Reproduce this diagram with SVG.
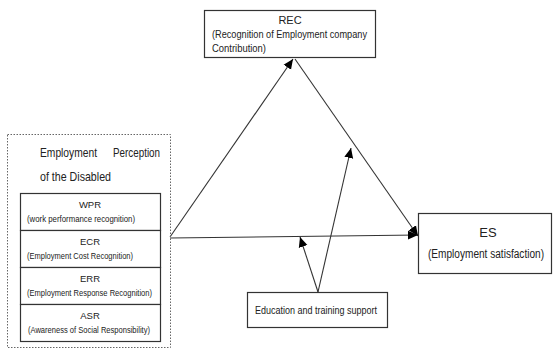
<svg xmlns="http://www.w3.org/2000/svg" width="555" height="358" viewBox="0 0 555 358">
<style>
.box{fill:#fff;stroke:#333;stroke-width:1.2}
.t{font-family:"Liberation Sans",Arial,sans-serif;fill:#222}
.s{font-size:9.5px}
.m{font-size:11px}
.l{font-size:13px}
.c{stroke:#333;stroke-width:1.1;fill:none;marker-end:url(#ah)}
</style>
<defs>
<marker id="ah" viewBox="0 0 10 10" refX="10" refY="5" markerWidth="10" markerHeight="10" markerUnits="userSpaceOnUse" orient="auto">
<path d="M0,0.5 L10,5 L0,9.5 Z" fill="#000"/>
</marker>
</defs>
<rect width="555" height="358" fill="#fff"/>
<g id="connectors">
<line class="c" x1="170" y1="237" x2="293" y2="59"/>
<line class="c" x1="295" y1="59" x2="418" y2="236"/>
<line class="c" x1="170" y1="238" x2="418" y2="235"/>
<line class="c" x1="318" y1="292" x2="300" y2="237"/>
<line class="c" x1="318" y1="292" x2="351" y2="148"/>
</g>
<g id="perception">
<rect x="7.5" y="134.5" width="163" height="213" fill="none" stroke="#666" stroke-width="1" stroke-dasharray="1.5,1.5"/>
<text class="t l" x="40" y="157" textLength="57" lengthAdjust="spacingAndGlyphs">Employment</text>
<text class="t l" x="113" y="157" textLength="47" lengthAdjust="spacingAndGlyphs">Perception</text>
<text class="t l" x="40" y="181" textLength="71" lengthAdjust="spacingAndGlyphs">of the Disabled</text>
</g>
<g id="wpr">
<rect class="box" x="20.5" y="193.5" width="140" height="37"/>
<text class="t s" x="90" y="208" text-anchor="middle">WPR</text>
<text class="t s" x="27" y="222" textLength="108" lengthAdjust="spacingAndGlyphs">(work performance recognition)</text>
</g>
<g id="ecr">
<rect class="box" x="20.5" y="230.5" width="140" height="37"/>
<text class="t s" x="90" y="245" text-anchor="middle">ECR</text>
<text class="t s" x="27" y="259" textLength="106" lengthAdjust="spacingAndGlyphs">(Employment Cost Recognition)</text>
</g>
<g id="err">
<rect class="box" x="20.5" y="267.5" width="140" height="37"/>
<text class="t s" x="90" y="282" text-anchor="middle">ERR</text>
<text class="t s" x="27" y="296" textLength="125" lengthAdjust="spacingAndGlyphs">(Employment Response Recognition)</text>
</g>
<g id="asr">
<rect class="box" x="20.5" y="304.5" width="140" height="37"/>
<text class="t s" x="90" y="319" text-anchor="middle">ASR</text>
<text class="t s" x="28" y="333" textLength="122" lengthAdjust="spacingAndGlyphs">(Awareness of Social Responsibility)</text>
</g>
<g id="rec">
<rect class="box" x="204.5" y="10.5" width="171" height="47"/>
<text class="t m" x="290" y="24" text-anchor="middle">REC</text>
<text class="t m" x="212" y="38" textLength="155" lengthAdjust="spacingAndGlyphs">(Recognition of Employment company</text>
<text class="t m" x="212" y="52" textLength="54" lengthAdjust="spacingAndGlyphs">Contribution)</text>
</g>
<g id="es">
<rect class="box" x="418.5" y="213.5" width="133" height="60"/>
<text class="t l" x="488" y="237" text-anchor="middle">ES</text>
<text class="t" font-size="12.5" x="428" y="258" textLength="116" lengthAdjust="spacingAndGlyphs">(Employment satisfaction)</text>
</g>
<g id="education">
<rect class="box" x="247.5" y="292.5" width="140" height="35"/>
<text class="t m" x="255" y="314" textLength="122" lengthAdjust="spacingAndGlyphs">Education and training support</text>
</g>
</svg>
